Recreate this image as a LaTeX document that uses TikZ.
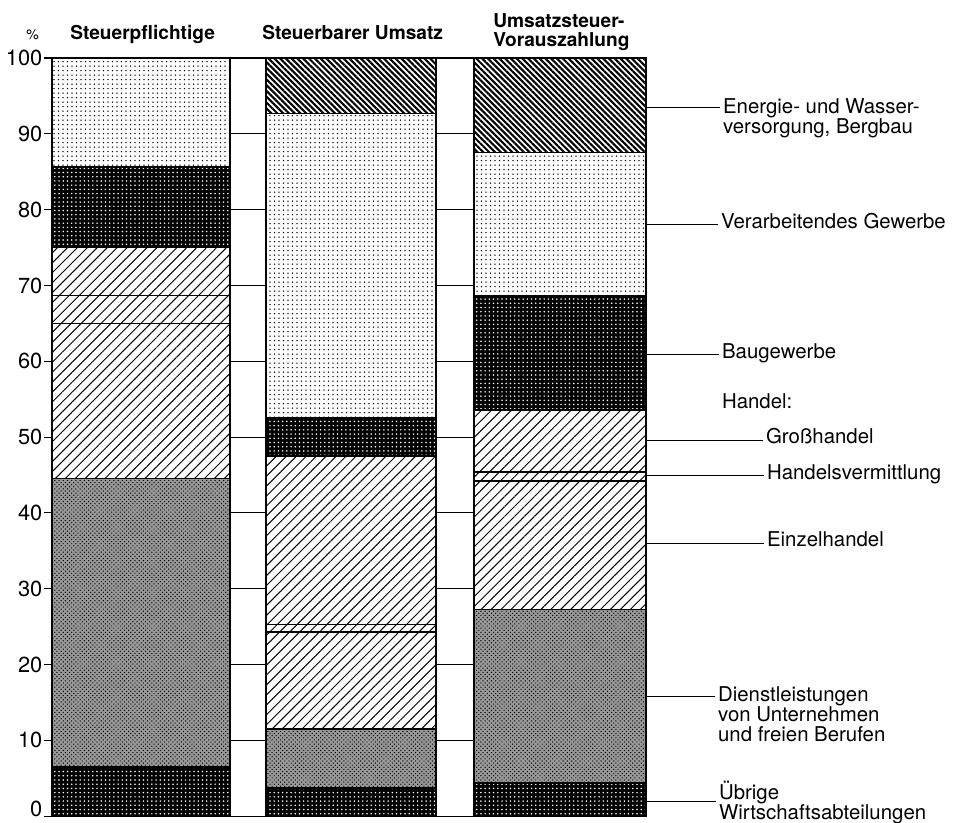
\documentclass[tikz,border=0pt]{standalone}
\usepackage{fontspec}
\setmainfont{TeX Gyre Heros}
\usetikzlibrary{patterns, patterns.meta}

\begin{document}
\begin{tikzpicture}[x=0.025cm, y=0.1895cm,
	lightdots/.style={pattern={Dots[distance=3.2pt, radius=0.55pt]}},
	darkdots/.style={preaction={fill=black}, pattern={Dots[distance=3pt, radius=0.6pt]}, pattern color=white},
	greydots/.style={preaction={fill=black!40}, pattern=crosshatch dots},
	hatch/.style={pattern={Lines[angle=45, distance=5pt, line width=0.7pt]}},
	densehatch/.style={pattern={Lines[angle=-45, distance=2.9pt, line width=1.5pt]}},
	segline/.style={line width=1pt},
	barline/.style={line width=1.6pt},
	gridline/.style={line width=0.8pt},
	leader/.style={line width=0.7pt},
	lbl/.style={font=\fontsize{14.5}{14.2}\selectfont, anchor=mid west, align=left, inner sep=2pt},
	head/.style={font=\fontsize{13.6}{13.6}\selectfont\bfseries, inner sep=0pt},
	num/.style={font=\fontsize{15.5}{16}\selectfont, anchor=east, inner sep=1pt}]
	\useasboundingbox (0,-0.79) rectangle (969,107.65);
	%%% Kopfzeile
	\node[font=\fontsize{10}{12}\selectfont, anchor=base west, inner sep=0pt] (pct) at (26,102.5) {\%};
	\node[head, anchor=base west] (h1) at (70,102.5) {Steuerpflichtige};
	\node[head, anchor=base west] (h2) at (262,102.5) {Steuerbarer Umsatz};
	\node[head, anchor=north west, align=left] (h3) at (493,105.9) {Umsatzsteuer-\\Vorauszahlung};
	%%% Achse und Hilfslinien
	\foreach \v in {0,10,...,100} {
		\draw[gridline] (44,\v) -- (52,\v);
		\draw[gridline] (230,\v) -- (266,\v);
		\draw[gridline] (436,\v) -- (474,\v);
	}
	\foreach \v in {10,20,...,100}
		\node[num] (t\v) at (44,\v) {\v};
	\node[num] (t0) at (44,0.9) {0};
	%%% Steuerpflichtige
	\draw[segline, darkdots] (52,0) rectangle (230,6.5);
	\draw[segline, greydots] (52,6.5) rectangle (230,44.5);
	\draw[segline, hatch] (52,44.5) rectangle (230,65);
	\draw[segline, hatch] (52,65) rectangle (230,68.7);
	\draw[segline, hatch] (52,68.7) rectangle (230,75);
	\draw[segline, darkdots] (52,75) rectangle (230,85.6);
	\draw[segline, lightdots] (52,85.6) rectangle (230,100);
	\draw[barline] (52,0) rectangle (230,100);
	%%% Steuerbarer Umsatz
	\draw[segline, darkdots] (266,0) rectangle (436,3.7);
	\draw[segline, greydots] (266,3.7) rectangle (436,11.5);
	\draw[segline, hatch] (266,11.5) rectangle (436,24.3);
	\draw[segline, hatch] (266,24.3) rectangle (436,25.3);
	\draw[segline, hatch] (266,25.3) rectangle (436,47.5);
	\draw[segline, darkdots] (266,47.5) rectangle (436,52.6);
	\draw[segline, lightdots] (266,52.6) rectangle (436,92.7);
	\draw[segline, densehatch] (266,92.7) rectangle (436,100);
	\draw[barline] (266,0) rectangle (436,100);
	%%% Umsatzsteuer-Vorauszahlung
	\draw[segline, darkdots] (474,0) rectangle (646,4.4);
	\draw[segline, greydots] (474,4.4) rectangle (646,27.3);
	\draw[segline, hatch] (474,27.3) rectangle (646,44.2);
	\draw[segline, hatch] (474,44.2) rectangle (646,45.4);
	\draw[segline, hatch] (474,45.4) rectangle (646,53.6);
	\draw[segline, darkdots] (474,53.6) rectangle (646,68.6);
	\draw[segline, lightdots] (474,68.6) rectangle (646,87.5);
	\draw[segline, densehatch] (474,87.5) rectangle (646,100);
	\draw[barline] (474,0) rectangle (646,100);
	%%% Legende
	\coordinate (cEn) at (646,93.5);  \coordinate (eEn) at (720,93.5);
	\coordinate (cVe) at (646,78.0);  \coordinate (eVe) at (718,78.0);
	\coordinate (cBa) at (646,60.9);  \coordinate (eBa) at (719,60.9);
	\coordinate (cGr) at (646,49.6);  \coordinate (eGr) at (763,49.6);
	\coordinate (cHv) at (646,44.9);  \coordinate (eHv) at (764,44.9);
	\coordinate (cEi) at (646,36.0);  \coordinate (eEi) at (764,36.0);
	\coordinate (cDi) at (646,15.8);  \coordinate (eDi) at (715,15.8);
	\coordinate (cUe) at (646,2.0);   \coordinate (eUe) at (716,2.0);
	% mehrzeilige Texte: Anker liegt auf der letzten Zeile
	\node[lbl] (energie) at (720,90.5) {Energie- und Wasser-\\versorgung, Bergbau};
	\node[lbl] (verarb) at (eVe) {Verarbeitendes Gewerbe};
	\node[lbl] (bau) at (eBa) {Baugewerbe};
	\node[lbl] (handel) at (719,54.2) {Handel:};
	\node[lbl] (gross) at (eGr) {Großhandel};
	\node[lbl] (hverm) at (eHv) {Handelsvermittlung};
	\node[lbl] (einzel) at (eEi) {Einzelhandel};
	\node[lbl] (dienst) at (715,10.3) {Dienstleistungen\\von Unternehmen\\und freien Berufen};
	\node[lbl] (uebrige) at (716,0.1) {Übrige\\Wirtschaftsabteilungen};
	\draw[leader] (cEn) -- (eEn);
	\draw[leader] (cVe) -- (eVe);
	\draw[leader] (cBa) -- (eBa);
	\draw[leader] (cGr) -- (eGr);
	\draw[leader] (cHv) -- (eHv);
	\draw[leader] (cEi) -- (eEi);
	\draw[leader] (cDi) -- (eDi);
	\draw[leader] (cUe) -- (eUe);
\end{tikzpicture}
\end{document}
